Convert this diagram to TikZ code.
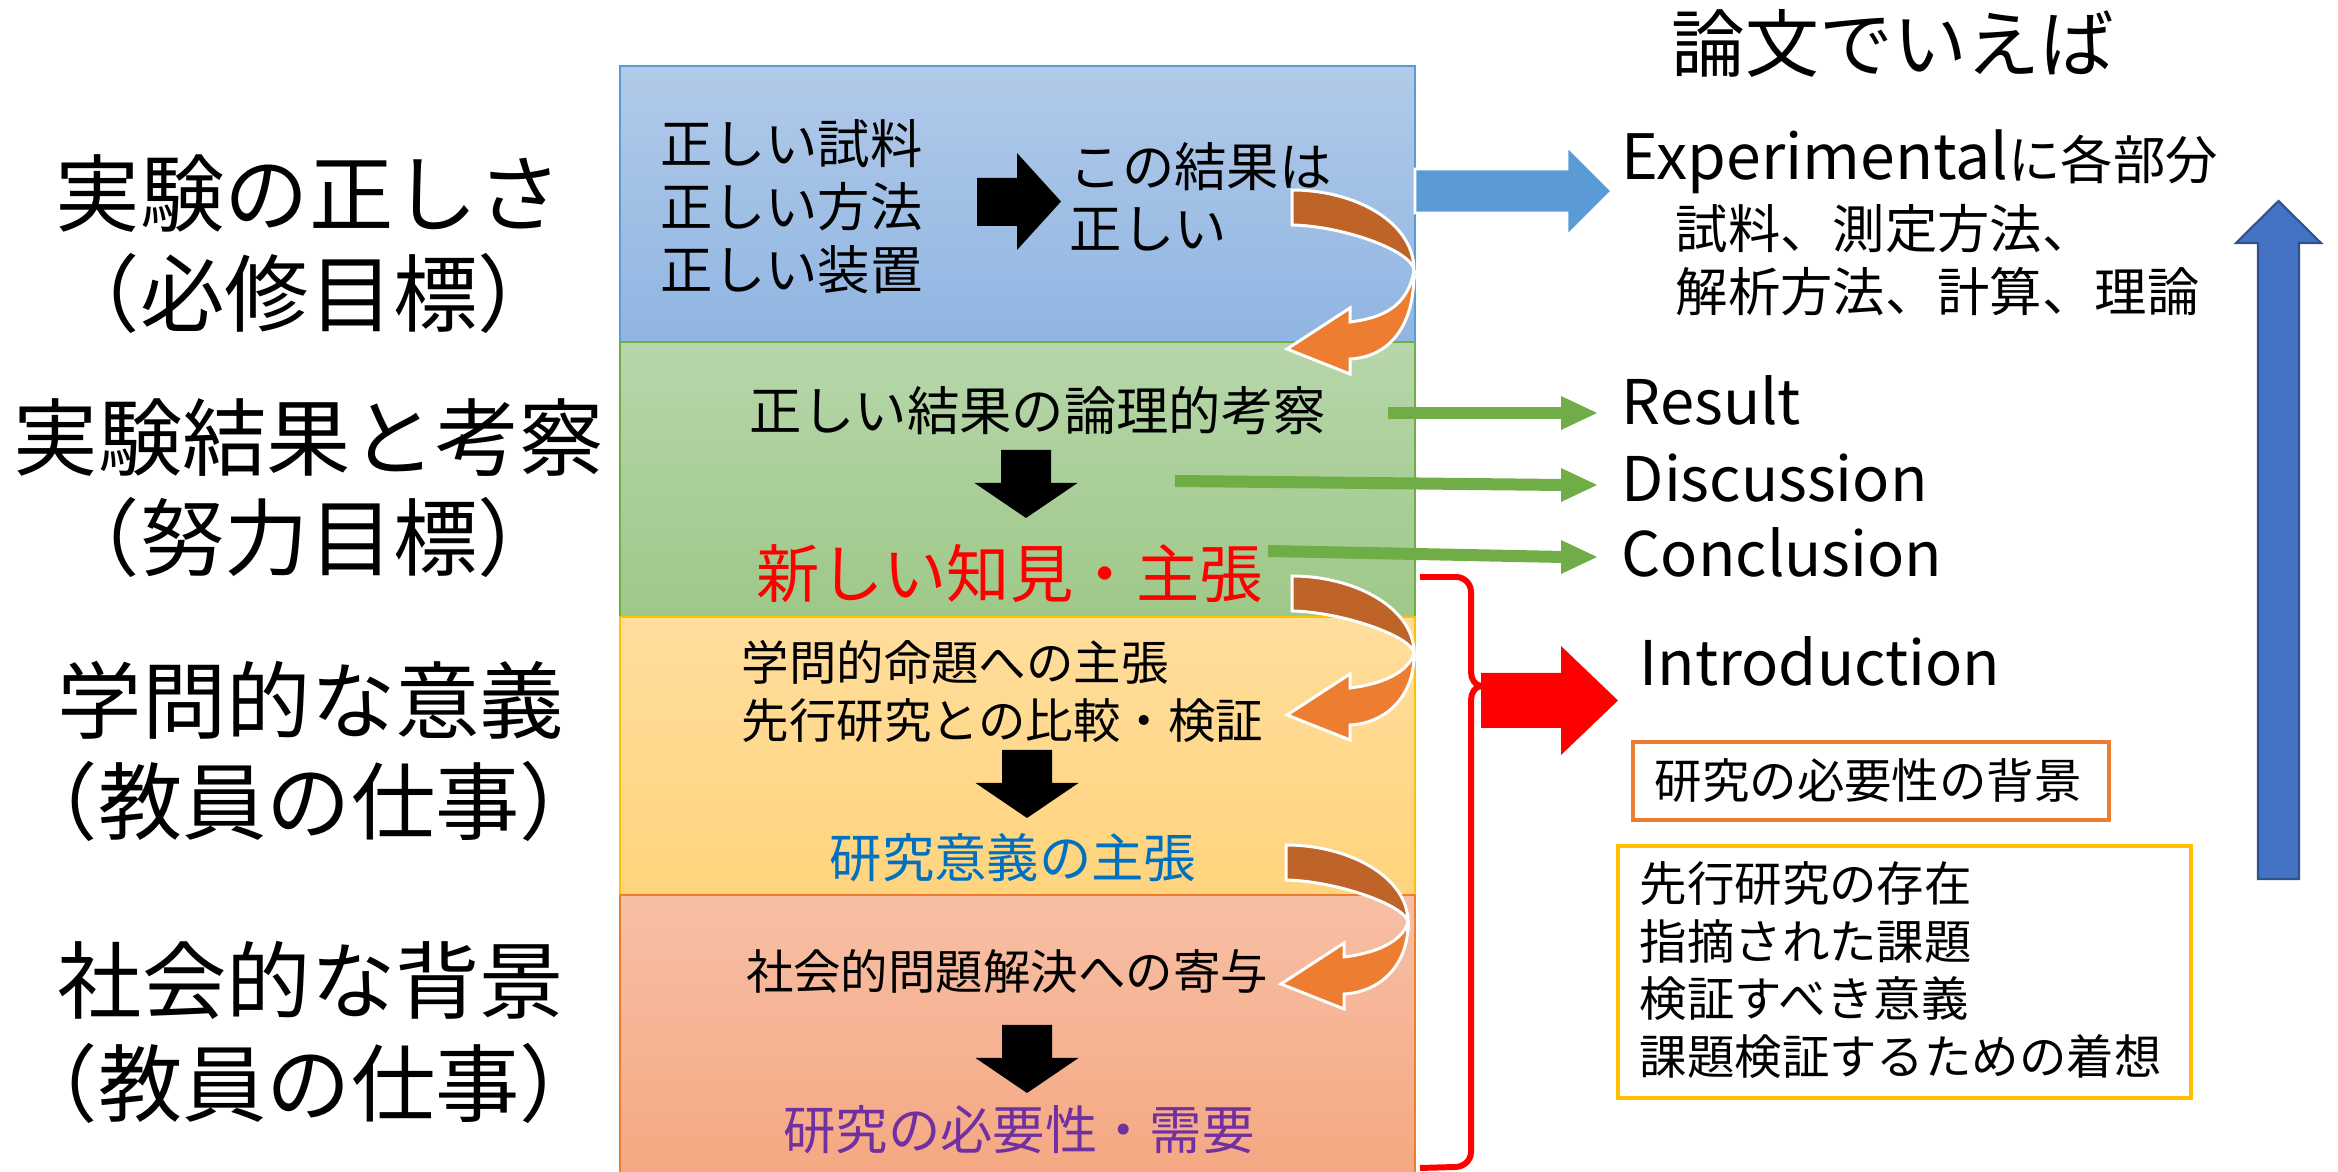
\documentclass[tikz,border=0pt]{standalone}
\usepackage{fontspec}
\setmainfont{Noto Sans CJK JP}
\definecolor{bluetop}{RGB}{177,202,233}
\definecolor{bluebot}{RGB}{144,181,226}
\definecolor{blueln}{RGB}{91,155,213}
\definecolor{greentop}{RGB}{183,214,170}
\definecolor{greenbot}{RGB}{158,200,136}
\definecolor{greenln}{RGB}{112,173,71}
\definecolor{yeltop}{RGB}{255,221,156}
\definecolor{yelbot}{RGB}{255,212,125}
\definecolor{yelln}{RGB}{255,192,0}
\definecolor{pinktop}{RGB}{247,191,165}
\definecolor{pinkbot}{RGB}{245,168,130}
\definecolor{pinkln}{RGB}{237,125,49}
\definecolor{cbrown}{RGB}{190,100,40}
\definecolor{corange}{RGB}{237,125,49}
\definecolor{jblue}{RGB}{0,112,192}
\definecolor{jpurple}{RGB}{112,48,160}
\definecolor{upblue}{RGB}{68,114,196}
\definecolor{upblueln}{RGB}{47,82,143}
\definecolor{expblue}{RGB}{91,155,213}
\definecolor{garrow}{RGB}{112,173,71}
\tikzset{
  fs/.style={font=\fontsize{#1pt}{#1pt}\selectfont, inner sep=0pt,
    text height={0.88*#1pt}, text depth={0.12*#1pt}},
  lat/.style={font=\fontsize{17.5pt}{19pt}\selectfont, inner sep=0pt},
  band/.style={line width=0.6pt},
  blockarrow/.style={fill=black},
  gshaft/.style={draw=garrow, line width=1.2mm},
  ghead/.style={fill=garrow},
  curvpart/.style={draw=white, line width=0.85pt, line join=miter},
}
% #1,#2: top-left start; #3: y of the turning point; #4: extra drop of the lower half
\newcommand\myCurved[4]{%
  \begin{scope}[shift={(#1,#2)}]
    \filldraw[curvpart, fill=cbrown] (0,-2) .. controls (63,-2) and (122,30) .. (122,#3)
      .. controls (119,58) and (50,34) .. (0,33) -- cycle;
    \filldraw[curvpart, fill=corange] (122,#3)
      .. controls (123,116+#4) and (96,145+#4) .. (58,147+#4)
      -- (58,162+#4) -- (-5,137+#4) -- (58,96+#4) -- (58,110+#4)
      .. controls (90,106+#4) and (116,95+#4) .. (122,#3) -- cycle;
  \end{scope}}
\newcommand\myDown[2]{%
  \fill[blockarrow] (#1-25,#2) -- (#1+25,#2) -- (#1+25,#2+33) -- (#1+51.5,#2+33)
    -- (#1,#2+68) -- (#1-51.5,#2+33) -- (#1-25,#2+33) -- cycle;}
\begin{document}
\begin{tikzpicture}[x=0.1mm, y=-0.1mm]
\useasboundingbox (0,0) rectangle (2338,1172);

% ---- main column bands
\shade[top color=bluetop, bottom color=bluebot] (620,66) rectangle (1415,342);
\draw[band, blueln] (620,66) rectangle (1415,342);
\shade[top color=greentop, bottom color=greenbot] (620,342) rectangle (1415,617);
\draw[band, greenln] (620,342) rectangle (1415,617);
\shade[top color=yeltop, bottom color=yelbot] (620,617) rectangle (1415,895);
\draw[band, yelln] (620,617) rectangle (1415,895);
\shade[top color=pinktop, bottom color=pinkbot] (620,895) rectangle (1415,1172);
\draw[band, pinkln] (620,895) -- (620,1172) (1415,895) -- (1415,1172) (620,895) -- (1415,895);

% ---- left labels
\node[fs=24] (l1a) at (309,193) {実験の正しさ};
\node[fs=24] (l1b) at (309,293) {（必修目標）};
\node[fs=24] (l2a) at (309,437) {実験結果と考察};
\node[fs=24] (l2b) at (309,537) {（努力目標）};
\node[fs=24] (l3a) at (311,700) {学問的な意義};
\node[fs=24] (l3b) at (309,801) {（教員の仕事）};
\node[fs=24] (l4a) at (311,980) {社会的な背景};
\node[fs=24] (l4b) at (309,1083) {（教員の仕事）};

% ---- blue band
\node[fs=14.9, anchor=west] (t1) at (660,144) {正しい試料};
\node[fs=14.9, anchor=west] (t2) at (660,207) {正しい方法};
\node[fs=14.9, anchor=west] (t3) at (660,270) {正しい装置};
\fill[blockarrow] (977,178) -- (1017,178) -- (1017,153) -- (1061,201.5)
  -- (1017,250) -- (1017,226) -- (977,226) -- cycle;
\node[fs=14.9, anchor=west] (t4) at (1069,167) {この結果は};
\node[fs=14.9, anchor=west] (t5) at (1069,229) {正しい};

% ---- green band
\node[fs=14.9] (g1) at (1038,411) {正しい結果の論理的考察};
\myDown{1026}{450}
\node[fs=18, text=red] (g2) at (1010,573) {新しい知見・主張};

% ---- yellow band
\node[fs=13.5, anchor=west] (y1) at (741,662) {学問的命題への主張};
\node[fs=13.5, anchor=west] (y2) at (741,720) {先行研究との比較・検証};
\myDown{1027}{750}
\node[fs=14.9, text=jblue] (y3) at (1013,858) {研究意義の主張};

% ---- pink band
\node[fs=13.5] (p1) at (1007,971) {社会的問題解決への寄与};
\myDown{1027}{1025}
\node[fs=14.9, text=jpurple] (p2) at (1019,1130) {研究の必要性・需要};

% ---- curved arrows
\myCurved{1292}{192}{78}{20}
\myCurved{1292}{578}{75}{0}
\myCurved{1286}{847}{75}{0}

% ---- right column texts
\node[fs=21] (ronbun) at (1893,43) {論文でいえば};
\node[anchor=base west, inner sep=0pt] (exp) at (1621,180)
  {{\fontsize{17.8pt}{20pt}\selectfont Experimental}{\fontsize{14.9pt}{16pt}\selectfont に各部分}};
\node[fs=14.9, anchor=west] (exp2) at (1675,229) {試料、測定方法、};
\node[fs=14.9, anchor=west] (exp3) at (1675,292) {解析方法、計算、理論};
\node[lat, anchor=base west] (res) at (1621,425) {Result};
\node[lat, anchor=base west] (dis) at (1621,502) {Discussion};
\node[lat, anchor=base west] (con) at (1621,577) {Conclusion};
\node[lat, anchor=base west] (intro) at (1639,686) {Introduction};

\draw[pinkln, line width=0.9pt] (1633,742) rectangle (2109,820);
\node[fs=13.5, anchor=west] (bg) at (1654,780) {研究の必要性の背景};
\draw[yelln, line width=0.9pt] (1618,846) rectangle (2191,1098);
\node[fs=13.5, anchor=west] (q1) at (1639,883) {先行研究の存在};
\node[fs=13.5, anchor=west] (q2) at (1639,941) {指摘された課題};
\node[fs=13.5, anchor=west] (q3) at (1639,998) {検証すべき意義};
\node[fs=13.5, anchor=west] (q4) at (1639,1056) {課題検証するための着想};

% ---- blue Experimental arrow
\filldraw[fill=expblue, draw=white, line width=0.8pt] (1415,169) -- (1567,169) -- (1567,146)
  -- (1612,191) -- (1567,236) -- (1567,213) -- (1415,213) -- cycle;

% ---- green arrows
\coordinate (rs) at (1388,413);
\coordinate (rb) at (1563,413);
\coordinate (ds) at (1175,481);
\coordinate (db) at (1563,485);
\coordinate (cs) at (1268,551);
\coordinate (cb) at (1563,557);
\draw[gshaft] (rs) -- (rb);
\fill[ghead] (1561,396) -- (1597,413) -- (1561,430) -- cycle;
\draw[gshaft] (ds) -- (db);
\fill[ghead] (1561,468) -- (1597,485) -- (1561,502) -- cycle;
\draw[gshaft] (cs) -- (cb);
\fill[ghead] (1561,540) -- (1597,557) -- (1561,574) -- cycle;

% ---- red bracket and arrow
\draw[red, line width=1.7pt, line join=round] (1420,577) -- (1456,577)
  to[out=0, in=90] (1471,592) -- (1471,672) to[out=-90, in=180] (1482,686)
  to[out=180, in=90] (1471,700) -- (1471,1152) to[out=-90, in=0] (1455,1167) -- (1420,1168);
\fill[red] (1481,673) -- (1561,673) -- (1561,646) -- (1618,700.5)
  -- (1561,755) -- (1561,728) -- (1481,728) -- cycle;

% ---- big blue up arrow
\filldraw[fill=upblue, draw=upblueln, line width=0.6pt] (2258,879) -- (2258,243) -- (2236,243)
  -- (2278.5,201) -- (2321,243) -- (2299,243) -- (2299,879) -- cycle;
\end{tikzpicture}
\end{document}
